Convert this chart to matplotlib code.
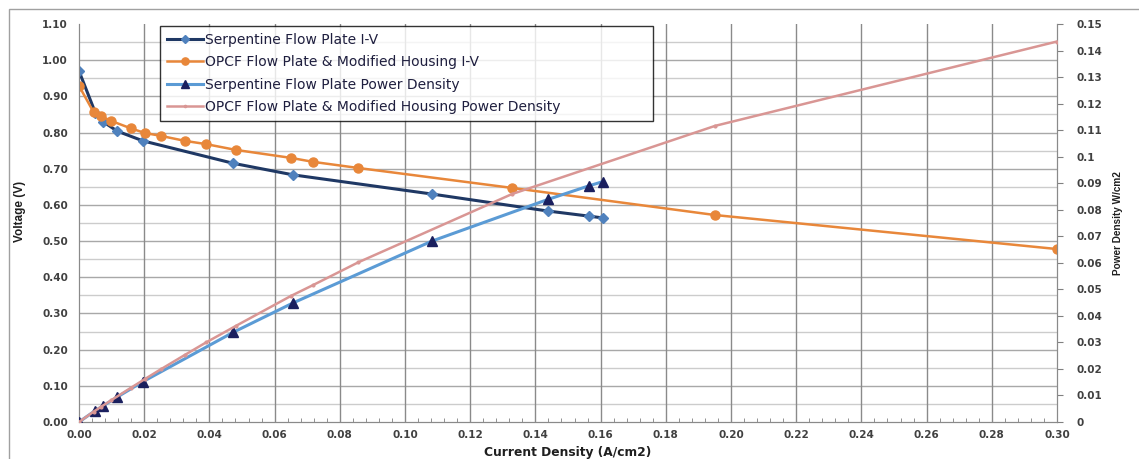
import numpy as np
import matplotlib
matplotlib.use("Agg")
import matplotlib.pyplot as plt
from matplotlib.ticker import MultipleLocator, FuncFormatter
from matplotlib.patches import Rectangle

# serpentine flow plate (I-V + power density)
serp_i = [0.0, 0.0050, 0.0074, 0.0117, 0.0196, 0.0473, 0.0657, 0.1083, 0.1439, 0.1564, 0.1607]
serp_v = [0.970, 0.855, 0.830, 0.804, 0.777, 0.715, 0.683, 0.630, 0.583, 0.569, 0.564]
serp_p = [0.0, 0.0043, 0.0061, 0.0094, 0.0152, 0.0338, 0.0449, 0.0682, 0.0839, 0.0890, 0.0906]

# OPCF flow plate & modified housing
opcf_i = [0.0, 0.0045, 0.0066, 0.0099, 0.0158, 0.0201, 0.0250, 0.0325, 0.0390, 0.0481,
          0.0650, 0.0718, 0.0857, 0.1328, 0.1951, 0.3000]
opcf_v = [0.929, 0.856, 0.846, 0.832, 0.812, 0.799, 0.791, 0.777, 0.768, 0.752,
          0.730, 0.719, 0.702, 0.647, 0.572, 0.478]
opcf_p = [0.0, 0.0039, 0.0056, 0.0082, 0.0128, 0.0161, 0.0198, 0.0253, 0.0300, 0.0362,
          0.0475, 0.0516, 0.0602, 0.0859, 0.1116, 0.1434]

NAVY = '#1F3864'
DIAMOND = '#4F81BD'
ORANGE = '#E8873A'
LBLUE = '#5B9BD5'
TRI = '#1A1F5E'
PINK = '#D99694'
TXT = '#404040'

fig = plt.figure(figsize=(11.39, 4.59), dpi=100)
fig.patches.append(Rectangle((9/1139, -0.1), 1.2, 1 - 9/459 + 0.1, transform=fig.transFigure,
                             fill=False, edgecolor='#A0A0A0', lw=1))
ax = fig.add_axes([79/1139, 1 - 422/459, 978/1139, 398/459])
ax2 = ax.twinx()

ax.set_xlim(0, 0.30)
ax.set_ylim(0, 1.10)
ax2.set_ylim(0, 0.15)

# grid
for y in np.arange(0.05, 1.10, 0.05):
    major = abs(y * 10 - round(y * 10)) < 1e-6
    ax.axhline(y, color='#A8A8A8' if major else '#CCCCCC', lw=1.0, zorder=0)
for x in np.arange(0.02, 0.30, 0.02):
    ax.axvline(x, color='#8A8A8A', lw=1.0, zorder=0)

l1, = ax.plot(serp_i, serp_v, color=NAVY, lw=2.2, marker='D', ms=5,
              mfc=DIAMOND, mec=DIAMOND, zorder=3)
l2, = ax.plot(opcf_i, opcf_v, color=ORANGE, lw=1.8, marker='o', ms=6.5,
              mfc=ORANGE, mec=ORANGE, zorder=3)
l3, = ax2.plot(serp_i, serp_p, color=LBLUE, lw=2.2, marker='^', ms=7,
               mfc=TRI, mec=TRI, zorder=3)
l4, = ax2.plot(opcf_i, opcf_p, color=PINK, lw=1.8, marker='o', ms=2,
               mfc=PINK, mec=PINK, zorder=3)

# ticks
ax.xaxis.set_major_locator(MultipleLocator(0.02))
ax.xaxis.set_minor_locator(MultipleLocator(0.004))
ax.yaxis.set_major_locator(MultipleLocator(0.10))
ax2.yaxis.set_major_locator(MultipleLocator(0.01))
ax.xaxis.set_major_formatter(FuncFormatter(lambda v, p: f'{v:.2f}'))
ax.yaxis.set_major_formatter(FuncFormatter(lambda v, p: f'{v:.2f}'))
ax2.yaxis.set_major_formatter(FuncFormatter(lambda v, p: f'{round(v, 2):g}'))

ax.tick_params(axis='x', which='major', length=0, pad=6, labelsize=7.5, labelcolor=TXT)
ax.tick_params(axis='x', which='minor', length=3, direction='in', color='#808080')
ax.tick_params(axis='y', length=0, pad=8, labelsize=7.5, labelcolor=TXT)
ax2.tick_params(axis='y', length=4, color='#808080', pad=10, labelsize=7.5, labelcolor=TXT)
for t in ax.get_xticklabels() + ax.get_yticklabels() + ax2.get_yticklabels():
    t.set_fontweight('bold')

for a in (ax, ax2):
    a.spines['top'].set_visible(False)
    a.spines['left'].set_color('#8A8A8A')
    a.spines['right'].set_color('#8A8A8A')
    a.spines['bottom'].set_color('#8A8A8A')
ax2.patch.set_visible(False)

narrow = ['Liberation Sans', 'DejaVu Sans']
ax.set_xlabel('Current Density (A/cm2)', fontsize=8.8, fontweight='bold',
              color='#1F1F1F', labelpad=4)
ax.set_ylabel('Voltage (V)', fontsize=8.5, fontweight='bold', family=narrow,
              color='#1F1F1F', labelpad=3)
ax.yaxis.set_label_coords(-0.054, 0.53)
ax2.set_ylabel('Power Density W/cm2', fontsize=7.2, fontweight='bold', family=narrow,
               color='#1F1F1F', labelpad=8)

leg = ax.legend([l1, l2, l3, l4],
                ['Serpentine Flow Plate I-V',
                 'OPCF Flow Plate & Modified Housing I-V',
                 'Serpentine Flow Plate Power Density',
                 'OPCF Flow Plate & Modified Housing Power Density'],
                loc='upper left', bbox_to_anchor=(0.083, 0.995, 0.504, 0.0), mode='expand',
                fontsize=10, frameon=True, fancybox=False, edgecolor='black',
                handlelength=2.6, handletextpad=0.1, labelspacing=0.6, borderpad=0.5,
                borderaxespad=0, markerscale=0.8)
leg.get_frame().set_linewidth(1.0)
leg.set_zorder(10)
for t in leg.get_texts():
    t.set_color('#1F1F3F')

fig.savefig('out.png', dpi=100)
